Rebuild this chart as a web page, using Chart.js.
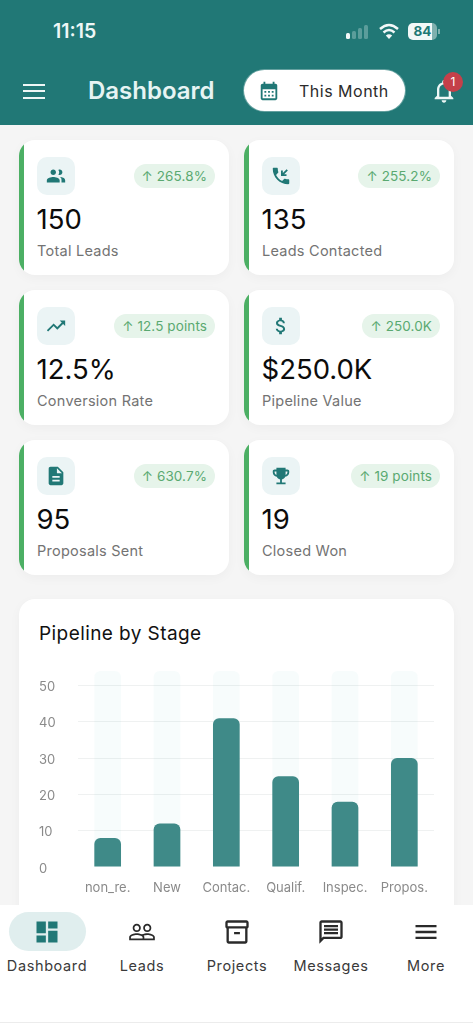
<!DOCTYPE html>
<html>
<head>
<meta charset="utf-8">
<title>Dashboard</title>
<script src="https://cdn.jsdelivr.net/npm/chart.js@4"></script>
<style>
    * { box-sizing: border-box; margin: 0; padding: 0; }
    html, body { width: 473px; height: 1024px; overflow: hidden; background: #f5f5f5; font-family: Inter, "Noto Sans", sans-serif; }
    .abs { position: absolute; }
    #head { left: 0; top: 0; width: 473px; height: 125px; background: #217876; }
    #time { left: 53px; top: 19px; font-size: 19.5px; font-weight: 600; color: #eef7f6; line-height: 24px; }
    #title { left: 88px; top: 75px; font-size: 24px; font-weight: 600; color: #e6f4f3; line-height: 32px; }
    #pill { left: 244px; top: 70px; width: 161px; height: 41px; background: #fff; border-radius: 21px; box-shadow: 0 0 0 1px rgba(255,255,255,.3); }
    #pill-text { left: 299px; top: 80px; font-size: 16px; letter-spacing: .5px; color: #2b2b2b; line-height: 22px; }
    .bar { left: 23px; width: 22px; height: 2px; background: #eef7f6; }
    #bell-dot { left: 443px; top: 72px; width: 20px; height: 20px; border-radius: 50%; background: #c4404a; color: #fff; font-size: 12px; line-height: 20px; text-align: center; }
    #batt { left: 408px; top: 23px; width: 29px; height: 17px; border-radius: 5px; background: linear-gradient(90deg, #f2f8f8 84%, #7fb0ae 84%); color: #217876; font-size: 13.5px; font-weight: 700; line-height: 17px; text-align: center; }

    .card { position: absolute; width: 210px; height: 135px; background: #fff; border-radius: 16px; overflow: hidden; box-shadow: 0 3px 12px rgba(0,0,0,.035); }
    .strip { position: absolute; left: 0; top: 0; width: 5px; height: 135px; background: #4caf64; }
    .ico { position: absolute; left: 18px; top: 17px; width: 38px; height: 38px; background: #ebf4f5; border-radius: 10px; display: flex; align-items: center; justify-content: center; }
    .ico svg { width: 22px; height: 22px; fill: #217876; }
    .delta { position: absolute; right: 14px; top: 24px; height: 24px; line-height: 24px; padding: 0 8px; background: #e6f4ea; border-radius: 12px; font-size: 13.5px; letter-spacing: .1px; color: #5aa971; white-space: nowrap; }
    .val { position: absolute; left: 17.5px; top: 61px; font-size: 27.5px; color: #0c0c0c; line-height: 36px; }
    .lbl { position: absolute; left: 18px; top: 101px; font-size: 14.5px; letter-spacing: .25px; color: #737373; line-height: 20px; }

    #chart-card { left: 19px; top: 599px; width: 435px; height: 330px; background: #fff; border-radius: 16px; box-shadow: 0 3px 12px rgba(0,0,0,.035); }
    #chart-title { left: 39px; top: 621px; font-size: 19px; color: #111; letter-spacing: .42px; line-height: 26px; }
    #stage-chart { position: absolute; left: 19px; top: 660px; }

    #nav { left: 0; top: 905px; width: 473px; height: 119px; background: #fff; }
    #nav-line { left: 0; top: 1022px; width: 473px; height: 1px; background: #ececec; }
    #nav-pill { left: 9px; top: 912px; width: 77px; height: 39px; border-radius: 20px; background: #e0eeee; }
    .nav-ico { position: absolute; top: 918px; width: 28px; height: 28px; fill: #2a2a2a; }
    .nav-lbl { position: absolute; top: 956px; width: 100px; text-align: center; font-size: 14.5px; letter-spacing: .62px; color: #3a3a3a; line-height: 20px; }
</style>
</head>
<body>
<div class="abs" id="head"></div>
<div class="abs" id="time">11:15</div>
<svg class="abs" style="left:345px;top:24px" width="26" height="16">
    <rect x="1" y="9" width="4" height="6" rx="1.5" fill="#f2f8f8"/>
    <rect x="7" y="7" width="4" height="8" rx="1.5" fill="#5b9d9b"/>
    <rect x="13" y="4" width="4" height="11" rx="1.5" fill="#5b9d9b"/>
    <rect x="19" y="1" width="4" height="14" rx="1.5" fill="#5b9d9b"/>
</svg>
<svg class="abs" style="left:379px;top:23px" width="20" height="17" viewBox="0 0 20 17">
    <path d="M1 6 Q10 -2 19 6" fill="none" stroke="#f2f8f8" stroke-width="2.4"/>
    <path d="M4.5 9.5 Q10 4.5 15.5 9.5" fill="none" stroke="#f2f8f8" stroke-width="2.4"/>
    <path d="M10 16 L6.8 12.6 Q10 9.8 13.2 12.6 Z" fill="#f2f8f8"/>
</svg>
<div class="abs" id="batt">84</div>
<div class="abs" style="left:438px;top:29px;width:2px;height:5px;background:#7fb0ae"></div>

<div class="abs bar" style="top:84px"></div>
<div class="abs bar" style="top:90px"></div>
<div class="abs bar" style="top:97px"></div>
<div class="abs" id="title">Dashboard</div>
<div class="abs" id="pill"></div>
<svg class="abs" style="left:258px;top:80px" width="22" height="22" viewBox="0 0 24 24" fill="#217876"><path d="M19 4h-1V2h-2v2H8V2H6v2H5c-1.1 0-2 .9-2 2v14c0 1.1.9 2 2 2h14c1.1 0 2-.9 2-2V6c0-1.1-.9-2-2-2zm0 16H5V10h14v10zM9 14H7v-2h2v2zm4 0h-2v-2h2v2zm4 0h-2v-2h2v2zm-8 4H7v-2h2v2zm4 0h-2v-2h2v2zm4 0h-2v-2h2v2z"/></svg>
<div class="abs" id="pill-text">This Month</div>
<svg class="abs" style="left:430px;top:77px" width="28" height="28" viewBox="0 0 24 24" fill="#eef7f6"><path d="M12 22c1.1 0 2-.9 2-2h-4c0 1.1.89 2 2 2zm6-6v-5c0-3.07-1.64-5.64-4.5-6.32V4c0-.83-.67-1.5-1.5-1.5s-1.5.67-1.5 1.5v.68C7.63 5.36 6 7.92 6 11v5l-2 2v1h16v-1l-2-2zm-2 1H8v-6c0-2.48 1.51-4.5 4-4.5s4 2.02 4 4.5v6z"/></svg>
<div class="abs" id="bell-dot">1</div>

<div id="cards"></div>

<div class="abs" id="chart-card"></div>
<div class="abs" id="chart-title">Pipeline by Stage</div>
<canvas id="stage-chart" width="435" height="240" style="width:435px;height:240px"></canvas>

<div class="abs" id="nav"></div>
<div class="abs" id="nav-line"></div>
<div class="abs" id="nav-pill"></div>
<div id="nav-items"></div>

<script>
// === DATA ===
const stageNames = ["non_re.", "New", "Contac.", "Qualif.", "Inspec.", "Propos."];
const stageCounts = [8, 12, 41, 25, 18, 30];
const stageTrack = [54, 54, 54, 54, 54, 54];
const yTicks = [0, 10, 20, 30, 40, 50];
const yMax = 54;

const statLabels = ["Total Leads", "Leads Contacted", "Conversion Rate", "Pipeline Value", "Proposals Sent", "Closed Won"];
const statValues = ["150", "135", "12.5%", "$250.0K", "95", "19"];
const statDeltas = ["265.8%", "255.2%", "12.5 points", "250.0K", "630.7%", "19 points"];
const navLabels = ["Dashboard", "Leads", "Projects", "Messages", "More"];

// === ICONS ===
const statIcons = [
    "M16 11c1.66 0 2.99-1.34 2.99-3S17.66 5 16 5c-.5 0-1 .13-1.4.35.6.8.9 1.7.9 2.65s-.3 1.85-.9 2.65c.4.22.9.35 1.4.35zM9 11c1.66 0 3-1.34 3-3S10.66 5 9 5 6 6.34 6 8s1.34 3 3 3zm0 2c-2.33 0-7 1.17-7 3.5V19h14v-2.5c0-2.33-4.67-3.5-7-3.5zm7.5.05c1.16.84 1.5 1.97 1.5 3.45V19h4v-2.5c0-2.33-3.5-3.4-5.5-3.45z",
    "M20 15.5c-1.25 0-2.45-.2-3.57-.57-.35-.11-.74-.03-1.02.24l-2.2 2.2c-2.83-1.44-5.15-3.75-6.59-6.59l2.2-2.21c.28-.26.36-.65.25-1C8.7 6.45 8.5 5.25 8.5 4c0-.55-.45-1-1-1H4c-.55 0-1 .45-1 1 0 9.39 7.61 17 17 17 .55 0 1-.45 1-1v-3.5c0-.55-.45-1-1-1zM19.5 5.9 18.1 4.5 14 8.6V6h-2v6h6v-2h-2.6z",
    "M16 6l2.29 2.29-4.88 4.88-4-4L2 16.59 3.41 18l6-6 4 4 6.3-6.29L22 12V6z",
    "M11.8 10.9c-2.27-.59-3-1.2-3-2.15 0-1.09 1.01-1.85 2.7-1.85 1.78 0 2.44.85 2.5 2.1h2.21c-.07-1.72-1.12-3.3-3.21-3.81V3h-3v2.16c-1.94.42-3.5 1.68-3.5 3.61 0 2.31 1.91 3.46 4.7 4.13 2.5.6 3 1.48 3 2.41 0 .69-.49 1.79-2.7 1.79-2.06 0-2.87-.92-2.98-2.1h-2.2c.12 2.19 1.76 3.42 3.68 3.83V21h3v-2.15c1.95-.37 3.5-1.5 3.5-3.55 0-2.84-2.43-3.81-4.7-4.4z",
    "M14 2H6c-1.1 0-1.99.9-1.99 2L4 20c0 1.1.89 2 1.99 2H18c1.1 0 2-.9 2-2V8l-6-6zm2 16H8v-2h8v2zm0-4H8v-2h8v2zm-3-5V3.5L18.5 9H13z",
    "M19 5h-2V3H7v2H5c-1.1 0-2 .9-2 2v1c0 2.55 1.92 4.63 4.39 4.94.63 1.5 1.98 2.63 3.61 2.96V19H7v2h10v-2h-4v-3.1c1.63-.33 2.98-1.46 3.61-2.96C19.08 12.63 21 10.55 21 8V7c0-1.1-.9-2-2-2zM5 8V7h2v3.82C5.84 10.4 5 9.3 5 8zm14 0c0 1.3-.84 2.4-2 2.82V7h2v1z"
];
const navIcons = [
    "M3 13h8V3H3v10zm0 8h8v-6H3v6zm10 0h8V11h-8v10zm0-18v6h8V3h-8z",
    "M16.5 13c-1.2 0-3.07.34-4.5 1-1.43-.67-3.3-1-4.5-1C5.33 13 1 14.08 1 16.25V19h22v-2.75c0-2.17-4.33-3.25-6.5-3.25zm-4 4.5h-10v-1.25c0-.54 2.56-1.75 5-1.75s5 1.21 5 1.75v1.25zm9 0H14v-1.25c0-.46-.2-.86-.52-1.22.88-.3 1.96-.53 3.02-.53 2.44 0 5 1.21 5 1.75v1.25zM7.5 12c1.93 0 3.5-1.57 3.5-3.5S9.43 5 7.5 5 4 6.57 4 8.5 5.57 12 7.5 12zm0-5.5c1.1 0 2 .9 2 2s-.9 2-2 2-2-.9-2-2 .9-2 2-2zm9 5.5c1.93 0 3.5-1.57 3.5-3.5S18.43 5 16.5 5 13 6.57 13 8.5s1.57 3.5 3.5 3.5zm0-5.5c1.1 0 2 .9 2 2s-.9 2-2 2-2-.9-2-2 .9-2 2-2z",
    "M4 2h16c1.1 0 2 .9 2 2v3.5c0 .6-.4 1.1-1 1.4V20c0 1.1-.9 2-2 2H5c-1.1 0-2-.9-2-2V8.9c-.6-.3-1-.8-1-1.4V4c0-1.1.9-2 2-2zm0 2v3h16V4H4zm1 5v11h14V9H5zm4.5 3h5v2h-5v-2z",
    "M20 2H4c-1.1 0-2 .9-2 2v18l4-4h14c1.1 0 2-.9 2-2V4c0-1.1-.9-2-2-2zm0 14H5.17L4 17.17V4h16v12zM6 12h12v2H6zm0-3h12v2H6zm0-3h12v2H6z",
    "M3 18h18v-2H3v2zm0-5h18v-2H3v2zm0-7v2h18V6H3z"
];

// === STAT CARDS ===
const cardLeft = [19, 244];
const cardTop = [140, 290, 440];
let cardHtml = "";
statLabels.forEach((label, i) => {
    cardHtml += `<div class="card" style="left:${cardLeft[i % 2]}px;top:${cardTop[Math.floor(i / 2)]}px">
        <div class="strip"></div>
        <div class="ico"><svg viewBox="0 0 24 24"><path d="${statIcons[i]}"/></svg></div>
        <div class="delta">↑ ${statDeltas[i]}</div>
        <div class="val">${statValues[i]}</div>
        <div class="lbl">${label}</div>
    </div>`;
});
document.getElementById("cards").innerHTML = cardHtml;

// === BOTTOM NAV ===
const navCenter = [47, 142, 237, 331, 426];
let navHtml = "";
navLabels.forEach((label, i) => {
    const fill = i === 0 ? "fill:#217876" : "";
    navHtml += `<svg class="nav-ico" viewBox="0 0 24 24" style="left:${navCenter[i] - 14}px;${fill}"><path d="${navIcons[i]}"/></svg>`;
    navHtml += `<div class="nav-lbl" style="left:${navCenter[i] - 50}px">${label}</div>`;
});
document.getElementById("nav-items").innerHTML = navHtml;

// === CHART ===
new Chart(document.getElementById("stage-chart").getContext("2d"), {
    type: "bar",
    data: {
        labels: stageNames,
        datasets: [
            { data: stageCounts, backgroundColor: "#3f8a88", order: 1, grouped: false, barPercentage: 0.45, categoryPercentage: 1, borderRadius: 6 },
            { data: stageTrack, backgroundColor: "rgba(40,170,170,0.04)", order: 2, grouped: false, barPercentage: 0.45, categoryPercentage: 1, borderRadius: 6 }
        ]
    },
    options: {
        responsive: false,
        animation: false,
        devicePixelRatio: 1,
        layout: { padding: { left: 20, right: 20, top: 11, bottom: 0 } },
        plugins: { legend: { display: false }, tooltip: { enabled: false } },
        scales: {
            x: {
                grid: { display: false },
                border: { display: false },
                afterFit: s => { s.height = 33; },
                ticks: { color: "#8a8a8a", font: { family: "Inter", size: 13 }, padding: 5, maxRotation: 0, autoSkip: false }
            },
            y: {
                min: 0,
                max: yMax,
                border: { display: false },
                afterBuildTicks: s => { s.ticks = yTicks.map(v => ({ value: v })); },
                afterFit: s => { s.width = 39; },
                grid: { color: c => c.tick && c.tick.value === 0 ? "transparent" : "#eff1f1", drawTicks: false },
                // empty first line nudges the label just under its grid line
                ticks: { color: "#8a8a8a", font: { family: "Inter", size: 13, lineHeight: 0.25 }, crossAlign: "far", padding: 0, callback: v => ["", String(v)] }
            }
        }
    }
});
</script>
</body>
</html>
